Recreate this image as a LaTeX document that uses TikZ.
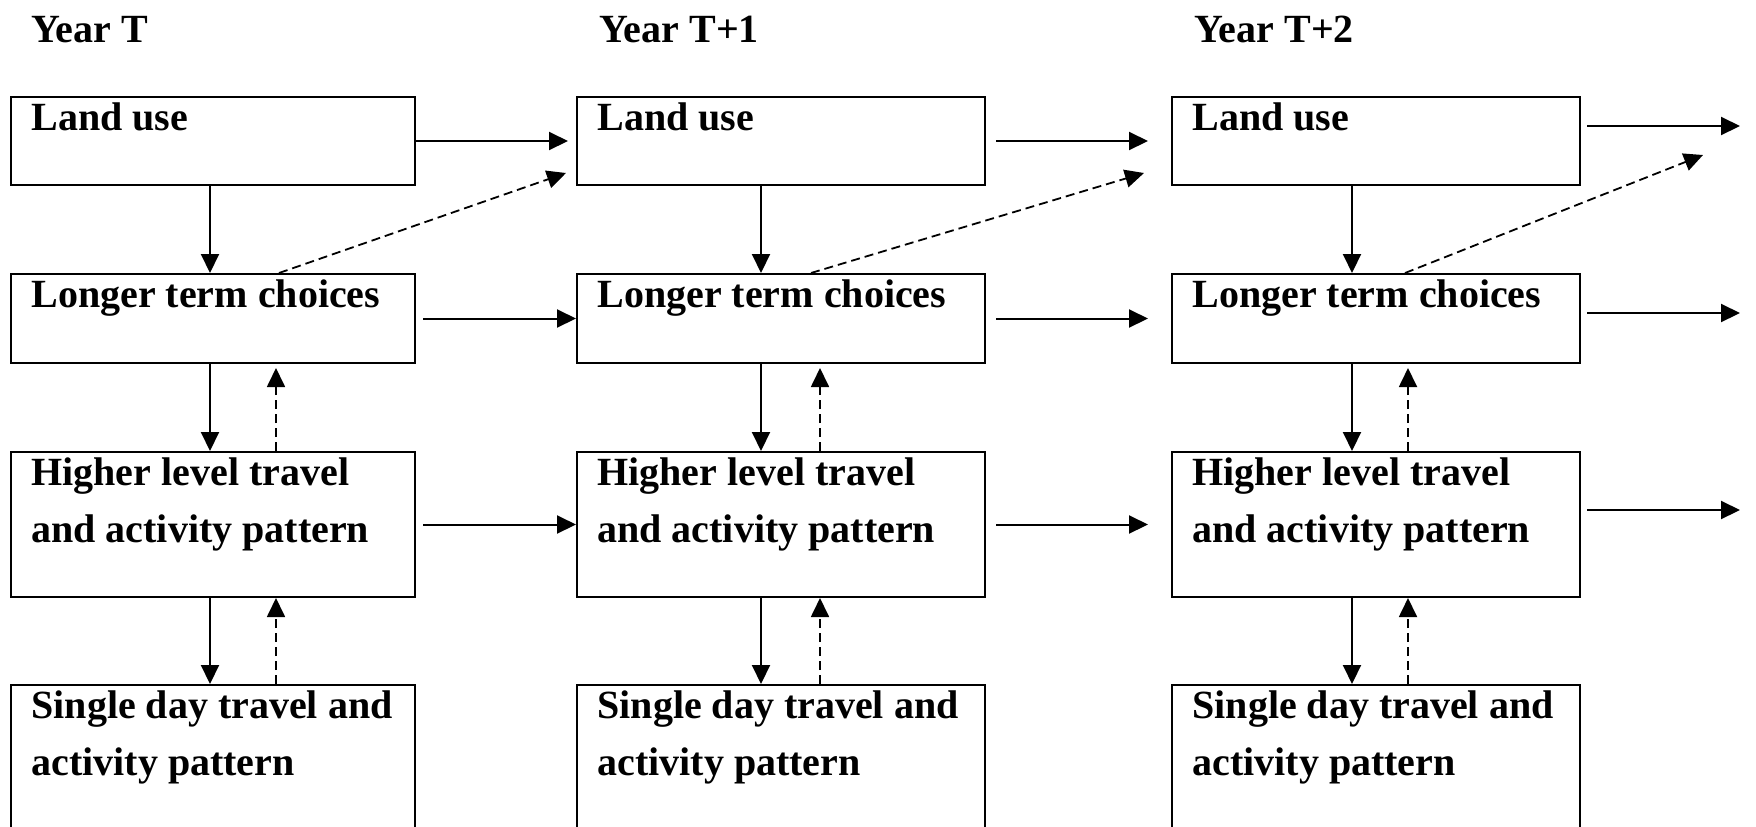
\documentclass[tikz,border=0pt]{standalone}
\usepackage{fontspec}
\setmainfont{Liberation Serif}
\usetikzlibrary{arrows.meta}
\begin{document}
\begin{tikzpicture}[x=0.5pt,y=-0.5pt,
  box/.style 2 args={draw, line width=1pt, inner sep=0pt, anchor=north west,
    minimum width=#1, minimum height=#2},
  btext/.style={anchor=north west, inner sep=0pt, align=left,
    font=\bfseries\fontsize{20pt}{28.5pt}\selectfont, xshift=10.5pt, yshift=2.95pt},
  title/.style={anchor=base west, inner sep=0pt,
    font=\bfseries\fontsize{20pt}{24pt}\selectfont},
  arr/.style={-{Triangle[length=9.5pt,width=9pt]}, line width=1pt},
  darr/.style={-{Triangle[length=9.5pt,width=9pt]}, line width=0.9pt,
    dash pattern=on 4.5pt off 2.5pt}]
\useasboundingbox (0,0) rectangle (1756,826);
\clip (0,0) rectangle (1756,826);

% titles
\node[title] (yT)  at (31,42)   {Year T};
\node[title] (yT1) at (599,42)  {Year T+1};
\node[title] (yT2) at (1194,42) {Year T+2};

% boxes
\node[box={202pt}{44pt}]   (L1) at (10,96)   {};
\node[box={204pt}{44pt}]   (L2) at (576,96)  {};
\node[box={204pt}{44pt}]   (L3) at (1171,96) {};
\node[box={202pt}{44.5pt}] (C1) at (10,273)   {};
\node[box={204pt}{44.5pt}] (C2) at (576,273)  {};
\node[box={204pt}{44.5pt}] (C3) at (1171,273) {};
\node[box={202pt}{72.5pt}] (H1) at (10,451)   {};
\node[box={204pt}{72.5pt}] (H2) at (576,451)  {};
\node[box={204pt}{72.5pt}] (H3) at (1171,451) {};
\node[box={202pt}{78pt}]   (S1) at (10,684)   {};
\node[box={204pt}{78pt}]   (S2) at (576,684)  {};
\node[box={204pt}{78pt}]   (S3) at (1171,684) {};

% box texts
\foreach \c in {1,2,3}{
  \node[btext] (Lt\c) at (L\c.north west) {\strut Land use};
  \node[btext] (Ct\c) at (C\c.north west) {\strut Longer term choices};
  \node[btext] (Ht\c) at (H\c.north west) {\strut Higher level travel\\\strut and activity pattern};
  \node[btext] (St\c) at (S\c.north west) {\strut Single day travel and\\\strut activity pattern};
}

% column x positions
\coordinate (s1) at (210,0);  \coordinate (s2) at (761,0);  \coordinate (s3) at (1352,0);
\coordinate (d1) at (276,0);  \coordinate (d2) at (820,0);  \coordinate (d3) at (1408,0);
\coordinate (e1) at (279,0);  \coordinate (e2) at (811,0);  \coordinate (e3) at (1405,0);
% free ends
\coordinate (t1) at (566,173); \coordinate (t2) at (1144,173); \coordinate (t3) at (1703,155);
\coordinate (o1) at (1740,126); \coordinate (o2) at (1740,313); \coordinate (o3) at (1740,510);

% vertical connectors
\foreach \c in {1,2,3}{
  \draw[arr] (L\c.south -| s\c) -- (C\c.north -| s\c);
  \draw[arr] (C\c.south -| s\c) -- (H\c.north -| s\c);
  \draw[arr] (H\c.south -| s\c) -- (S\c.north -| s\c);
  \draw[darr, shorten >=2pt] (H\c.north -| d\c) -- (C\c.south -| d\c);
  \draw[darr] (S\c.north -| d\c) -- (H\c.south -| d\c);
  \draw[darr] (C\c.north -| e\c) -- (t\c);
}

% horizontal connectors col1 -> col2
\draw[arr, shorten >=4pt] (L1.east) -- (L2.west);
\draw[arr, shorten <=3.5pt] (C1.east) -- (C2.west);
\draw[arr, shorten <=3.5pt] (H1.east) -- (H2.west);
% col2 -> col3
\draw[arr, shorten <=5pt, shorten >=11.5pt] (L2.east) -- (L3.west);
\draw[arr, shorten <=5pt, shorten >=11.5pt] (C2.east) -- (C3.west);
\draw[arr, shorten <=5pt, shorten >=11.5pt] (H2.east) -- (H3.west);
% col3 -> out
\draw[arr, shorten <=3pt] (L3.east |- o1) -- (o1);
\draw[arr, shorten <=3pt] (C3.east |- o2) -- (o2);
\draw[arr, shorten <=3pt] (H3.east |- o3) -- (o3);
\end{tikzpicture}
\end{document}
